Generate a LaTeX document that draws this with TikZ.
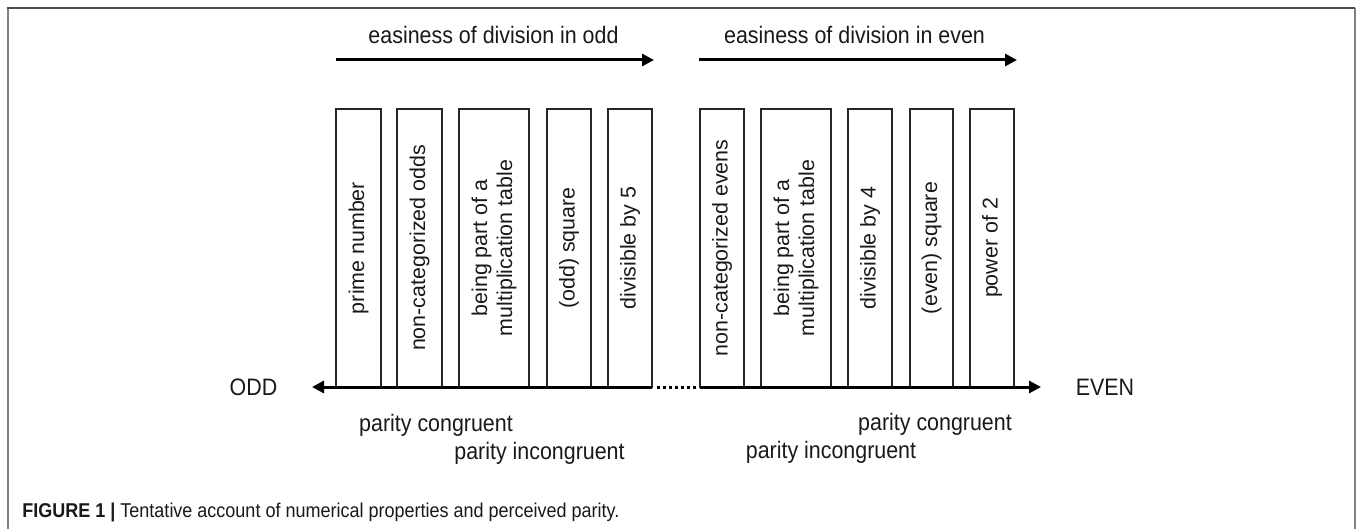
\documentclass[tikz,border=0pt]{standalone}
\usepackage{fontspec}
\setmainfont{Liberation Sans}
\newfontfamily\condfont[FakeStretch=0.9]{Liberation Sans}
\usetikzlibrary{arrows.meta}
\definecolor{framedark}{gray}{0.30}
\definecolor{frameside}{gray}{0.50}
\begin{document}
\begin{tikzpicture}[x=0.5pt,y=-0.5pt,
  catbox/.style={draw=black!85, line width=0.6pt, rotate=90, minimum width=139pt,
    inner sep=0pt, align=center, font=\fontsize{10.7}{12.5}\selectfont, text=black!90},
  condlabel/.style={font=\condfont\fontsize{11.9}{14}\selectfont, inner sep=0pt, text=black!90},
  capfont/.style={font=\condfont\fontsize{10}{12}\selectfont, inner sep=0pt, text=black!90},
  thickarrow/.style={line width=1.5pt, -{Triangle[length=6pt,width=6pt]}},
  dotline/.style={line width=1.5pt, dash pattern=on 1.5pt off 1.5pt}
]
\useasboundingbox (0,0) rectangle (1358,529);
% frame
\draw[frameside, line width=1pt] (7.5,529) -- (7.5,8.5);
\draw[frameside, line width=1pt] (1354.5,8.5) -- (1354.5,529);
\draw[framedark, line width=1pt] (7,8.5) -- (1355,8.5);

% top labels and arrows
\node[condlabel] (topodd) at (493.5,35) {easiness of division in odd};
\node[condlabel] (topeven) at (854.5,35) {easiness of division in even};
\coordinate (oa1) at (336,60);
\coordinate (oa2) at (654,60);
\coordinate (ea1) at (699,60);
\coordinate (ea2) at (1017,60);
\draw[thickarrow] (oa1) -- (oa2);
\draw[thickarrow] (ea1) -- (ea2);

% odd boxes
\node[catbox, minimum height=22.5pt] (b1) at (358.5,248) {prime number};
\node[catbox, minimum height=22.5pt] (b2) at (419.5,248) {non-categorized odds};
\node[catbox, minimum height=35pt]   (b3) at (494,248) {being part of a\\multiplication table};
\node[catbox, minimum height=22pt]   (b4) at (569,248) {(odd) square};
\node[catbox, minimum height=22pt]   (b5) at (630,248) {divisible by 5};
% even boxes
\node[catbox, minimum height=22pt]   (b6) at (722,248) {non-categorized evens};
\node[catbox, minimum height=35pt]   (b7) at (796,248) {being part of a\\multiplication table};
\node[catbox, minimum height=22pt]   (b8) at (870,248) {divisible by 4};
\node[catbox, minimum height=21.5pt] (b9) at (931.5,248) {(even) square};
\node[catbox, minimum height=22pt]   (b10) at (992,248) {power of 2};

% axis
\node[condlabel] (odd) at (253.5,387) {ODD};
\node[condlabel] (even) at (1105,387) {EVEN};
\coordinate (axL) at (312,387);
\coordinate (oddR) at (652,387);
\coordinate (dotA) at (657,387);
\coordinate (dotB) at (698,387);
\coordinate (evenL) at (700,387);
\coordinate (axR) at (1041,387);
\draw[thickarrow] (oddR) -- (axL);
\draw[thickarrow] (evenL) -- (axR);
\draw[dotline] (dotA) -- (dotB);

% parity labels
\node[condlabel] (pcL) at (436,425) {parity congruent};
\node[condlabel] (piL) at (539.5,453) {parity incongruent};
\node[condlabel] (pcR) at (935,424) {parity congruent};
\node[condlabel] (piR) at (831,452) {parity incongruent};

% caption
\node[capfont, anchor=west] (cap) at (22,512) {\textbf{FIGURE 1 |} Tentative account of numerical properties and perceived parity.};
\end{tikzpicture}
\end{document}
